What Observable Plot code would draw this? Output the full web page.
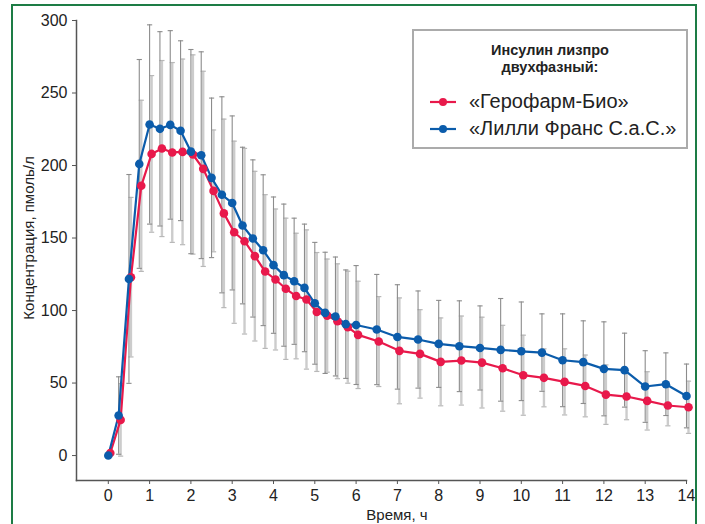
<!DOCTYPE html>
<html>
<head>
<meta charset="utf-8">
<script src="https://cdn.jsdelivr.net/npm/d3@7"></script>
<script src="https://cdn.jsdelivr.net/npm/@observablehq/plot@0.6"></script>
<style>
  html, body { margin: 0; padding: 0; background: #fff; overflow: hidden; }
  #wrap { position: relative; width: 705px; height: 524px; font-family: "Liberation Sans", Arial, sans-serif; }
  #frame { position: absolute; left: 11px; top: 4px; width: 686px; height: 560px;
           border: 2.5px solid #1d7c45; box-sizing: border-box; pointer-events: none; }
  #legend { position: absolute; left: 412px; top: 29px; width: 276px; height: 120px;
            border: 2px solid #ababab; background: #fff; box-sizing: border-box; }
  #legend .ttl { text-align: center; font-weight: bold; font-size: 14.5px; line-height: 17px;
                 color: #222; margin-top: 11px; }
  #legend .row { display: flex; align-items: center; height: 27px; font-size: 20px; color: #222; margin-left: 16px; }
  #legend .row svg { margin-right: 13px; }
</style>
</head>
<body>
<div id="wrap">
  <div id="chart"></div>
  <div id="legend"></div>
  <div id="frame"></div>
</div>
<script>
// ---- data ----
const times = [0, 0.25, 0.5, 0.75, 1, 1.25, 1.5, 1.75, 2, 2.25, 2.5, 2.75, 3, 3.25, 3.5, 3.75,
  4, 4.25, 4.5, 4.75, 5, 5.25, 5.5, 5.75, 6, 6.5, 7, 7.5, 8, 8.5, 9, 9.5, 10, 10.5, 11, 11.5,
  12, 12.5, 13, 13.5, 14];

// «Герофарм-Био» (red)
const geroMean = [1.8, 24.6, 123, 186, 208, 211.7, 209, 209.4, 207.6, 197.7, 182.5, 167, 154, 147.8,
  137.5, 126.9, 121.4, 115, 110, 107.6, 99, 96.5, 92.6, 88.5, 83.2, 78.6, 72.2, 70.1, 64.6, 65.5,
  64.1, 60.2, 55.4, 53.6, 50.8, 48, 42, 40.7, 37.7, 34.5, 33.3];
const geroSD = [0, 25, 55, 59, 54, 60.7, 62, 64, 68.7, 67.3, 42, 65, 62.8, 64, 58.5, 53, 48.6, 48.7,
  43.3, 48, 41, 39, 39.6, 38.6, 37, 31, 36.5, 30.5, 30.3, 30.7, 31.3, 29.6, 27.6, 20, 22.8, 21.3,
  20.5, 16, 20.1, 14, 18];

// «Лилли Франс С.а.С.» (blue)
const lillyMean = [0, 27.6, 121.8, 201.1, 228.3, 225.3, 228, 224, 209.6, 207.1, 191.5, 179.8, 174.2,
  158.6, 149.7, 141.6, 131.3, 124.4, 120.2, 115.6, 105, 98.4, 95.9, 90.6, 90, 86.9, 81.8, 80, 77,
  75.4, 74.2, 72.9, 71.9, 71, 65.7, 64.4, 59.8, 58.9, 47.6, 49.2, 41.1];
const lillySD = [0, 26.7, 72, 72, 68.7, 67, 65, 62, 70.4, 71.3, 55, 67.6, 60, 54, 54.2, 52, 47, 49,
  43.5, 44, 42, 41.8, 41, 37.4, 41, 38, 36, 33.5, 30, 31.3, 29, 35.4, 34, 26.7, 32, 28.5, 32.4,
  25.5, 24.7, 21.6, 22];

const seriesNames = ["«Герофарм-Био»", "«Лилли Франс С.а.С.»"];
const seriesColors = ["#e8194b", "#0b5cab"];
const yTicks = [0, 50, 100, 150, 200, 250, 300];
const xTicks = [0, 1, 2, 3, 4, 5, 6, 7, 8, 9, 10, 11, 12, 13, 14];
const legendTitle = ["Инсулин лизпро", "двухфазный:"];
const yLabel = "Концентрация, пмоль/л";
const xLabel = "Время, ч";

// ---- tables ----
const gero = times.map((t, i) => ({t, v: geroMean[i], lo: geroMean[i] - geroSD[i], hi: geroMean[i] + geroSD[i], sd: geroSD[i]}));
const lilly = times.map((t, i) => ({t, v: lillyMean[i], lo: lillyMean[i] - lillySD[i], hi: lillyMean[i] + lillySD[i], sd: lillySD[i]}));
const geroErr = gero.filter(d => d.sd > 0);
const lillyErr = lilly.filter(d => d.sd > 0);
const caps = (arr) => arr.flatMap(d => [{t: d.t, y: d.lo}, {t: d.t, y: d.hi}]);

const hbar = {draw(ctx, size) { const w = Math.sqrt(size / Math.PI); ctx.moveTo(-w, 0); ctx.lineTo(w, 0); }};

const font = "Liberation Sans, Arial, sans-serif";

const chart = Plot.plot({
  width: 705,
  height: 524,
  marginLeft: 76,
  marginRight: 19,
  marginTop: 20,
  marginBottom: 44,
  style: {fontFamily: font, fontSize: "16px", color: "#222", background: "transparent"},
  x: {domain: [-0.77, 14]},
  y: {domain: [-17.2, 300]},
  marks: [
    // light grey bars (Герофарм-Био)
    Plot.ruleX(geroErr, {x: "t", y1: "lo", y2: "hi", dx: 2, stroke: "#cccccc", strokeWidth: 2.4}),
    Plot.dot(caps(geroErr), {x: "t", y: "y", dx: 2, symbol: hbar, r: 2.6, stroke: "#b8b8b8", strokeWidth: 1.2}),
    // dark grey bars (Лилли)
    Plot.ruleX(lillyErr, {x: "t", y1: "lo", y2: "hi", stroke: "#8c8c8c", strokeWidth: 1.1}),
    Plot.dot(caps(lillyErr), {x: "t", y: "y", symbol: hbar, r: 2.6, stroke: "#8c8c8c", strokeWidth: 1.1}),
    // series
    Plot.line(gero, {x: "t", y: "v", dx: 2, stroke: seriesColors[0], strokeWidth: 2.2}),
    Plot.line(lilly, {x: "t", y: "v", stroke: seriesColors[1], strokeWidth: 2.2}),
    Plot.dot(gero, {x: "t", y: "v", dx: 2, r: 4.3, fill: seriesColors[0]}),
    Plot.dot(lilly, {x: "t", y: "v", r: 4.3, fill: seriesColors[1]}),
    // axes
    Plot.frame({anchor: "left", stroke: "#555", strokeWidth: 1.5}),
    Plot.frame({anchor: "bottom", stroke: "#555", strokeWidth: 1.5}),
    Plot.axisY({ticks: yTicks, tickSize: 4, tickPadding: 5, stroke: "#555", fontSize: 16,
      label: yLabel, labelAnchor: "center", labelArrow: "none"}),
    Plot.axisX({ticks: xTicks, tickSize: 4, tickPadding: 5, stroke: "#555", fontSize: 16,
      label: xLabel, labelAnchor: "center", labelArrow: "none"})
  ]
});

document.getElementById("chart").appendChild(chart);

// place axis labels exactly (shift relative to where Plot put them)
function placeLabel(sel, cx, cy, size) {
  const g = d3.select(chart).select(sel);
  if (g.empty()) return;
  g.selectAll("text").style("font-size", size + "px");
  const node = g.node();
  const b = node.getBBox();
  const ctm = node.getCTM();
  const curX = b.x + b.width / 2 + (ctm ? ctm.e : 0);
  const curY = b.y + b.height / 2 + (ctm ? ctm.f : 0);
  const prev = node.getAttribute("transform") || "";
  node.setAttribute("transform", `translate(${cx - curX},${cy - curY}) ${prev}`);
}
placeLabel('g[aria-label="y-axis label"]', 28, 238, 15);
placeLabel('g[aria-label="x-axis label"]', 397, 514, 15);

// legend
const legend = d3.select("#legend");
legend.append("div").attr("class", "ttl").html(legendTitle.join("<br>"));
seriesNames.forEach((name, i) => {
  const row = legend.append("div").attr("class", "row");
  const s = row.append("svg").attr("width", 26).attr("height", 12);
  s.append("line").attr("x1", 0).attr("x2", 26).attr("y1", 6).attr("y2", 6)
    .attr("stroke", seriesColors[i]).attr("stroke-width", 2.2);
  s.append("circle").attr("cx", 13).attr("cy", 6).attr("r", 4).attr("fill", seriesColors[i]);
  row.append("span").text(name);
});
legend.select(".row").style("margin-top", "12px");
</script>
</body>
</html>
